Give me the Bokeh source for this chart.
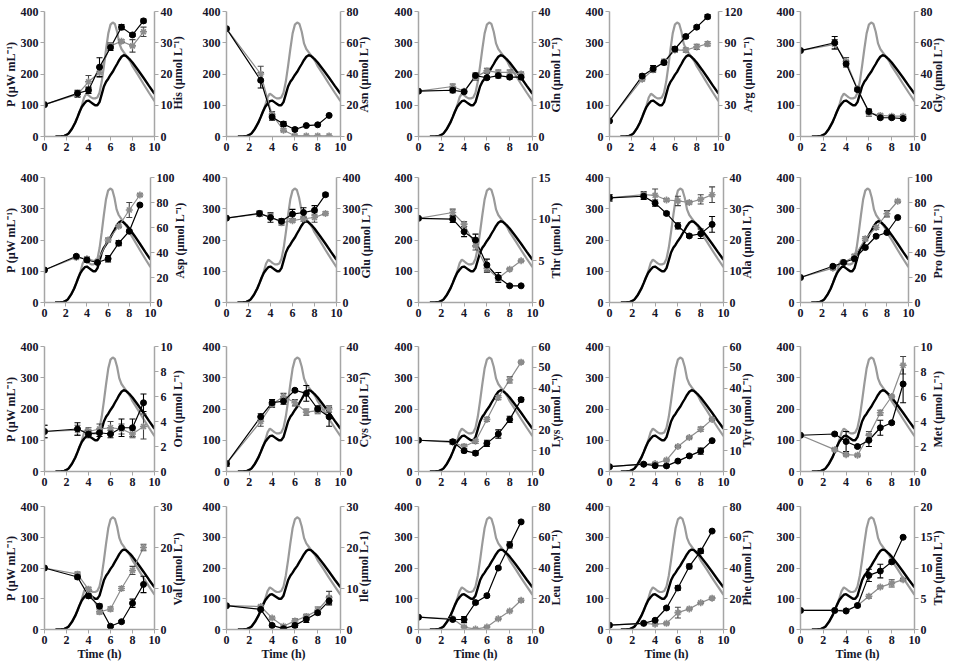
import numpy as np
from bokeh.plotting import figure
from bokeh.models import Range1d, LinearAxis, FixedTicker
from bokeh.layouts import column, row
from bokeh.embed import file_html
from bokeh.resources import INLINE

# ---------------- data ----------------
time_pts = [0, 3, 4, 5, 6, 7, 8, 9]

power_t = [1.0, 1.5, 1.8, 2.0, 2.2, 2.5, 2.8, 3.0, 3.2, 3.4, 3.6, 3.8, 4.0, 4.2, 4.4,
           4.6, 4.8, 5.0, 5.2, 5.4, 5.6, 5.8, 6.0, 6.2, 6.4, 6.6, 6.8, 7.0, 7.2, 7.4,
           7.6, 7.8, 8.0, 8.5, 9.0, 9.5, 10.0]
power_black = [0, 1, 2, 5, 10, 25, 45, 62, 80, 95, 105, 113, 115, 110, 105,
               100, 100, 110, 135, 160, 175, 185, 197, 207, 220, 232, 245, 255, 260, 258,
               252, 245, 237, 213, 188, 162, 137]
power_grey = [0, 1, 2, 5, 10, 25, 45, 62, 80, 100, 125, 137, 132, 126, 122,
              122, 125, 140, 175, 225, 280, 330, 358, 365, 360, 335, 298, 280, 270, 260,
              250, 240, 225, 197, 168, 140, 113]

his_b = [10.2, 13.8, 14.8, 22.2, 28.5, 35.0, 32.5, 37.0]
his_g = [10.2, 13.5, 17.5, 20.5, 29.0, 30.5, 29.0, 33.5]
his_be = [0, 1, 1, 3, 1, 0.8, 0.5, 0.6]
his_ge = [0, 1, 2, 1.5, 1, 0.5, 2, 1.5]

asn_b = [69, 36, 12.5, 8, 4.5, 7, 7.5, 13.5]
asn_g = [69, 40, 14, 4, 0.5, 0.4, 0.4, 0.4]
asn_be = [0, 5, 2, 1.5, 1, 0.5, 0.5, 0.5]
asn_ge = [0, 5, 2, 1, 0.5, 0.3, 0.3, 0.3]

gln_b = [14.5, 14.8, 14.3, 19.5, 18.8, 19.5, 19.0, 19.0]
gln_g = [14.5, 16.0, 14.5, 19.0, 21.0, 20.5, 20.5, 20.0]
gln_be = [0, 0.8, 0.5, 0.8, 0.5, 0.8, 0.6, 0.6]
gln_ge = [0, 0.8, 0.5, 1, 0.8, 0.8, 0.8, 0.6]

arg_b = [15, 58, 65, 71, 84, 96, 105, 115]
arg_g = [15, 55, 64, 72, 83, 83, 86, 89]
arg_be = [0, 2, 3, 2, 2, 1.5, 1.5, 2]
arg_ge = [0, 1.5, 2, 2, 2, 2, 2.5, 2]

gly_b = [55, 60, 46.5, 30, 16, 12, 12, 11.5]
gly_g = [55, 59, 48, 30.5, 15, 13.5, 13, 13]
gly_be = [0, 4, 2, 1, 1.5, 1, 1, 1]
gly_ge = [0, 3, 2.5, 1, 2, 1, 1, 1]

asp_b = [26, 37, 34, 32, 35, 47.5, 57, 78]
asp_g = [26, 36, 35, 33, 50, 61, 74, 86]
asp_be = [0, 1, 1.5, 1, 2.5, 2, 1, 1]
asp_ge = [0, 1, 1.5, 1, 1.5, 1, 6, 1]

glu_b = [270, 285, 272, 260, 283, 288, 295, 345]
glu_g = [270, 283, 275, 255, 262, 268, 272, 285]
glu_be = [0, 8, 15, 8, 15, 15, 15, 5]
glu_ge = [0, 8, 8, 8, 5, 8, 15, 5]

thr_b = [10.1, 10.0, 8.5, 7.5, 4.5, 3.0, 2.0, 2.0]
thr_g = [10.1, 10.8, 9.4, 6.8, 4.1, 2.9, 4.0, 5.0]
thr_be = [0, 0.4, 0.6, 0.7, 0.7, 0.6, 0.1, 0.1]
thr_ge = [0, 0.4, 0.3, 0.5, 0.5, 0.3, 0.1, 0.1]

ala_b = [33.5, 34.0, 31.8, 28.5, 24.5, 21.3, 22.0, 25.0]
ala_g = [33.5, 34.5, 34.3, 32.8, 32.5, 32.0, 33.0, 34.5]
ala_be = [1, 1, 1, 0.5, 1, 0.5, 1.5, 2.5]
ala_ge = [1, 1, 2, 0.5, 1.5, 0.5, 1.5, 2.5]

pro_b = [20, 29, 32, 35, 44, 53, 56, 68]
pro_g = [20, 27.5, 32, 37, 51, 60, 71, 81]
pro_be = [0, 1, 1, 1, 1, 1, 1, 1]
pro_ge = [0, 1, 1, 1.5, 1.5, 1.5, 2.5, 1]

orn_b = [3.2, 3.4, 3.0, 3.1, 3.0, 3.5, 3.5, 5.5]
orn_g = [3.2, 3.3, 3.2, 3.4, 3.5, 3.4, 3.0, 3.6]
orn_be = [0.5, 0.5, 0.3, 0.3, 0.3, 0.7, 0.7, 0.7]
orn_ge = [0.5, 0.4, 0.3, 0.4, 0.5, 0.4, 0.3, 1.0]

cys_b = [2.5, 17.5, 22, 22.5, 26, 25, 20, 17.5]
cys_g = [2.5, 16, 21.5, 24, 22, 19, 19.5, 20]
cys_be = [0.8, 1, 1, 1, 0.5, 2.5, 1, 3]
cys_ge = [0.8, 1.5, 1, 1, 1, 1, 1, 1]

lys_b = [15, 14.3, 10, 8.8, 13.5, 18, 25, 34.5]
lys_g = [15, 14, 12, 14.5, 25, 35.5, 44, 52.5]
lys_be = [0, 1, 1, 1, 1.5, 2, 1.5, 1]
lys_ge = [0, 1, 1, 1, 1, 1, 1.5, 0.5]

tyr_b = [2.3, 3.5, 2.8, 2.7, 5.0, 7.5, 9.8, 14.8]
tyr_g = [2.3, 3.5, 3.8, 5.5, 12.0, 16.3, 20.3, 25.0]
tyr_be = [0, 0.5, 0.5, 0.5, 0.5, 0.5, 1.5, 0.5]
tyr_ge = [0, 0.5, 0.5, 0.5, 0.5, 0.5, 1, 0.5]

met_b = [2.9, 3.0, 2.4, 2.0, 2.5, 3.5, 3.9, 7.0]
met_g = [2.9, 1.75, 1.35, 1.3, 2.9, 4.7, 6.0, 8.5]
met_be = [0, 0.1, 0.8, 0.1, 0.5, 0.6, 0.1, 1.5]
met_ge = [0, 0.1, 0.1, 0.1, 0.3, 0.2, 0.1, 0.7]

val_b = [15, 12.8, 8.2, 5.7, 0.8, 1.9, 6.4, 11]
val_g = [15, 13.5, 9.8, 4.3, 5.0, 10, 14.4, 20]
val_be = [0, 0.5, 0.5, 0.5, 0.3, 0.3, 1, 2]
val_ge = [0, 0.5, 0.5, 0.5, 0.5, 0.5, 1, 0.8]

ile_b = [5.8, 4.9, 1.0, 0.2, 1.0, 2.5, 4.1, 7.0]
ile_g = [5.8, 5.6, 2.8, 0.8, 2.1, 3.2, 4.7, 7.8]
ile_be = [0, 0.3, 0.3, 0.3, 0.5, 0.8, 0.5, 1]
ile_ge = [0, 0.3, 0.3, 0.3, 0.5, 0.5, 0.8, 1.5]

leu_b = [8, 6.5, 6.5, 17.5, 22, 40, 55, 70]
leu_g = [8, 7, 1.6, 0.3, 1.6, 7, 12, 19]
leu_be = [0, 1, 2, 1, 1, 1, 2, 1]
leu_ge = [0, 0.5, 0.5, 0.5, 0.5, 0.5, 0.5, 1]

phe_b = [2.8, 4, 6, 14, 27, 41, 51, 64]
phe_g = [2.8, 4, 3.4, 4, 11, 13.4, 17.4, 20.4]
phe_be = [0, 0.5, 0.5, 1, 1.5, 1.5, 1.5, 0.5]
phe_ge = [0, 0.5, 0.5, 0.5, 3.5, 0.5, 0.5, 0.5]

trp_b = [3.1, 3.1, 3.0, 3.9, 8.8, 9.5, 11.0, 15.0]
trp_g = [3.1, 3.1, 3.1, 3.9, 5.4, 6.9, 7.5, 8.1]
trp_be = [0, 0.1, 0.1, 0.2, 1, 1.1, 0.3, 0.1]
trp_ge = [0, 0.1, 0.1, 0.2, 0.3, 0.2, 0.6, 0.2]

panel_names = [["His", "Asn", "Gln", "Arg", "Gly"],
               ["Asp", "Glu", "Thr", "Ala", "Pro"],
               ["Orn", "Cys", "Lys", "Tyr", "Met"],
               ["Val", "Ile", "Leu", "Phe", "Trp"]]
right_max = [[40, 80, 40, 120, 80], [100, 400, 15, 40, 100],
             [10, 40, 60, 60, 10], [30, 30, 80, 80, 20]]
right_step = [[10, 20, 10, 30, 20], [20, 100, 5, 10, 20],
              [2, 10, 10, 10, 2], [10, 10, 20, 20, 5]]
series = {
    "His": (his_b, his_g, his_be, his_ge), "Asn": (asn_b, asn_g, asn_be, asn_ge),
    "Gln": (gln_b, gln_g, gln_be, gln_ge), "Arg": (arg_b, arg_g, arg_be, arg_ge),
    "Gly": (gly_b, gly_g, gly_be, gly_ge), "Asp": (asp_b, asp_g, asp_be, asp_ge),
    "Glu": (glu_b, glu_g, glu_be, glu_ge), "Thr": (thr_b, thr_g, thr_be, thr_ge),
    "Ala": (ala_b, ala_g, ala_be, ala_ge), "Pro": (pro_b, pro_g, pro_be, pro_ge),
    "Orn": (orn_b, orn_g, orn_be, orn_ge), "Cys": (cys_b, cys_g, cys_be, cys_ge),
    "Lys": (lys_b, lys_g, lys_be, lys_ge), "Tyr": (tyr_b, tyr_g, tyr_be, tyr_ge),
    "Met": (met_b, met_g, met_be, met_ge), "Val": (val_b, val_g, val_be, val_ge),
    "Ile": (ile_b, ile_g, ile_be, ile_ge), "Leu": (leu_b, leu_g, leu_be, leu_ge),
    "Phe": (phe_b, phe_g, phe_be, phe_ge), "Trp": (trp_b, trp_g, trp_be, trp_ge),
}
left_label = "P (µW mL⁻¹)"
x_label = "Time (h)"
unit = " (µmol L⁻¹)"

# ---------------- layout ----------------
col_left = [39, 30, 36, 36, 36]
frame_w = [115, 114, 114, 114, 114]
col_right = [42, 42, 41, 41, 40]
row_top = [11, 8, 8, 8]
frame_h = [125, 125, 125, 125]
row_bottom = [33, 36, 27, 32]

FONT = "Liberation Serif"
TXT = "#15152a"
AXC = "#a6a6a6"
GREY = "#8c8c8c"

# approximate bold serif glyph widths (per 1000 em) used to centre the right labels
_W = {"A": 722, "C": 722, "G": 778, "H": 778, "I": 389, "L": 667, "M": 944, "O": 778,
      "P": 611, "T": 667, "V": 722, "a": 500, "e": 444, "g": 500, "h": 556, "i": 278,
      "l": 278, "m": 833, "n": 556, "o": 500, "p": 556, "r": 444, "s": 389, "t": 333,
      "u": 556, "y": 500, " ": 250, "(": 333, ")": 333, "-": 333, "1": 500, "µ": 556,
      "⁻": 380, "¹": 300}


def text_px(s, size=12):
    return sum(_W.get(ch, 520) for ch in s) * size / 1000.0


def style_axis(ax):
    ax.axis_line_color = AXC
    ax.axis_line_width = 1.5
    ax.major_tick_line_color = AXC
    ax.major_tick_out = 4
    ax.major_tick_in = 0
    ax.minor_tick_line_color = None
    ax.major_label_text_font = FONT
    ax.major_label_text_font_size = "12px"
    ax.major_label_text_font_style = "bold"
    ax.major_label_text_color = TXT
    ax.major_label_standoff = 2
    ax.axis_label_text_font = FONT
    ax.axis_label_text_font_size = "12px"
    ax.axis_label_text_font_style = "bold"
    ax.axis_label_text_color = TXT
    ax.axis_label_standoff = 0


def make_panel(r, c):
    name = panel_names[r][c]
    rmax = right_max[r][c]
    rstep = right_step[r][c]
    yb, yg, eb, eg = series[name]
    w = col_left[c] + frame_w[c] + col_right[c]
    h = row_top[r] + frame_h[r] + row_bottom[r]
    p = figure(width=w, height=h, x_range=Range1d(0, 10), y_range=Range1d(0, 400),
               output_backend="svg", toolbar_location=None,
               min_border_left=col_left[c], min_border_right=col_right[c],
               min_border_top=row_top[r], min_border_bottom=row_bottom[r])
    p.outline_line_color = None
    p.xgrid.visible = False
    p.ygrid.visible = False
    p.background_fill_color = None
    p.border_fill_color = "white"
    p.extra_y_ranges = {"r": Range1d(0, rmax)}

    p.xaxis.ticker = FixedTicker(ticks=list(range(0, 11, 2)))
    p.yaxis.ticker = FixedTicker(ticks=[0, 100, 200, 300, 400])
    for ax in p.xaxis + p.yaxis:
        style_axis(ax)
    if c == 0:
        p.yaxis.axis_label = left_label
    if r == 3:
        p.xaxis.axis_label = x_label

    # right axis: label reads bottom-to-top as in the original figure
    label_txt = name + (" (µmol L-1)" if name == "Ile" else unit)
    pad = max(0, int(round((frame_h[r] - text_px(label_txt)) / 2.0 / 3.0)))
    rax = LinearAxis(y_range_name="r", axis_label="\u00a0" * pad + label_txt,
                     ticker=FixedTicker(ticks=list(range(0, rmax + 1, rstep))))
    style_axis(rax)
    rax.axis_label_orientation = np.pi / 2
    rax.axis_label_align = "start"
    rax.axis_label_text_baseline = "top"
    rax.axis_label_standoff = 2
    p.add_layout(rax, "right")

    # power curves
    p.line(power_t, power_grey, line_color="#9a9a9a", line_width=2.2)
    p.line(power_t, power_black, line_color="black", line_width=2.4)

    # concentration series
    p.line(time_pts, yg, line_color=GREY, line_width=1.2, y_range_name="r")
    p.line(time_pts, yb, line_color="black", line_width=1.2, y_range_name="r")

    # error bars
    for ys, es, colr in ((yg, eg, "#444444"), (yb, eb, "black")):
        xs = [t for t, e in zip(time_pts, es) if e > 0]
        lo = [v - e for v, e in zip(ys, es) if e > 0]
        hi = [v + e for v, e in zip(ys, es) if e > 0]
        if xs:
            p.segment(xs, lo, xs, hi, line_color=colr, line_width=1.1, y_range_name="r")
            p.scatter(xs + xs, lo + hi, marker="dash", size=6, line_color=colr,
                      line_width=1.1, y_range_name="r")

    p.scatter(time_pts, yg, marker="asterisk", size=7, line_color=GREY, line_width=1.6,
              y_range_name="r")
    p.scatter(time_pts, yb, marker="circle", size=6, fill_color="black", line_color="black",
              y_range_name="r")
    return p


rows = []
for r in range(4):
    rows.append(row(*[make_panel(r, c) for c in range(5)]))
layout = column(*rows)

open("out.html", "w").write(file_html(layout, INLINE))
